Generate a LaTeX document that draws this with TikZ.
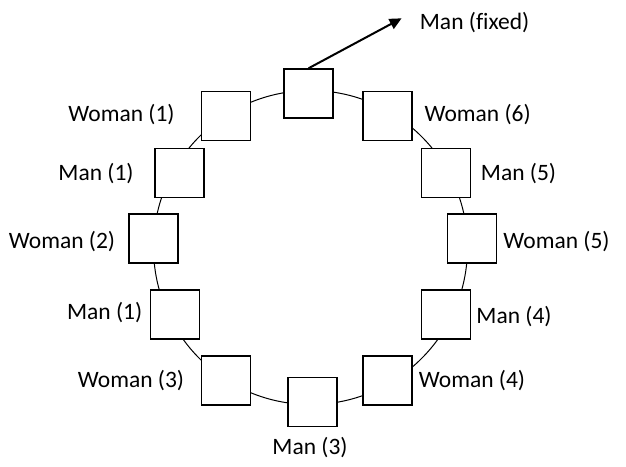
\documentclass[tikz,border=0pt]{standalone}
\usepackage{fontspec}
\setmainfont[Ligatures=NoCommon]{Carlito}
\usetikzlibrary{arrows.meta}
\begin{document}
\begin{tikzpicture}[x=1pt,y=-1pt,
  seat/.style={draw=black, fill=white, line width=1.3pt, minimum size=49pt, inner sep=0pt},
  lbl/.style={inner sep=0pt, font=\fontsize{23.5}{28}\selectfont},
  ring/.style={draw=black, line width=1pt}]
\useasboundingbox (0,0) rectangle (626,466);
\fill[white] (0,0) rectangle (626,466);
\draw[ring] (310.5,247.5) circle[radius=157];
\node[seat] (top) at (308.6,93.4) {};
\node[seat] (w1) at (225.7,116) {};
\node[seat] (w6) at (387.5,116) {};
\node[seat] (m1u) at (179.5,173.2) {};
\node[seat] (m5) at (446,173.2) {};
\node[seat] (w2) at (153.4,238.4) {};
\node[seat] (w5) at (472,238.4) {};
\node[seat] (m1l) at (175,314.4) {};
\node[seat] (m4) at (446,314.4) {};
\node[seat] (w3) at (225.7,380.4) {};
\node[seat] (w4) at (387.5,380.4) {};
\node[seat] (m3) at (312.4,402.2) {};
\coordinate (tip) at (401.6,18.3);
\draw[line width=2pt, -{Triangle[length=12pt,width=11pt]}] (top.north) -- (tip);
\node[lbl, anchor=west] (lfix) at (419.7,23) {Man (fixed)};
\node[lbl] (lw1) at (121.5,114.5) {Woman (1)};
\node[lbl] (lw6) at (477.7,114.5) {Woman (6)};
\node[lbl] (lm1u) at (96,173.5) {Man (1)};
\node[lbl] (lm5) at (518.5,173.5) {Man (5)};
\node[lbl] (lw2) at (62,241.5) {Woman (2)};
\node[lbl] (lw5) at (556.5,241.5) {Woman (5)};
\node[lbl] (lm1l) at (104.6,313) {Man (1)};
\node[lbl] (lm4) at (514,316.5) {Man (4)};
\node[lbl] (lw3) at (131,380.5) {Woman (3)};
\node[lbl] (lw4) at (472,380.5) {Woman (4)};
\node[lbl] (lm3) at (310,447.5) {Man (3)};
\end{tikzpicture}
\end{document}
